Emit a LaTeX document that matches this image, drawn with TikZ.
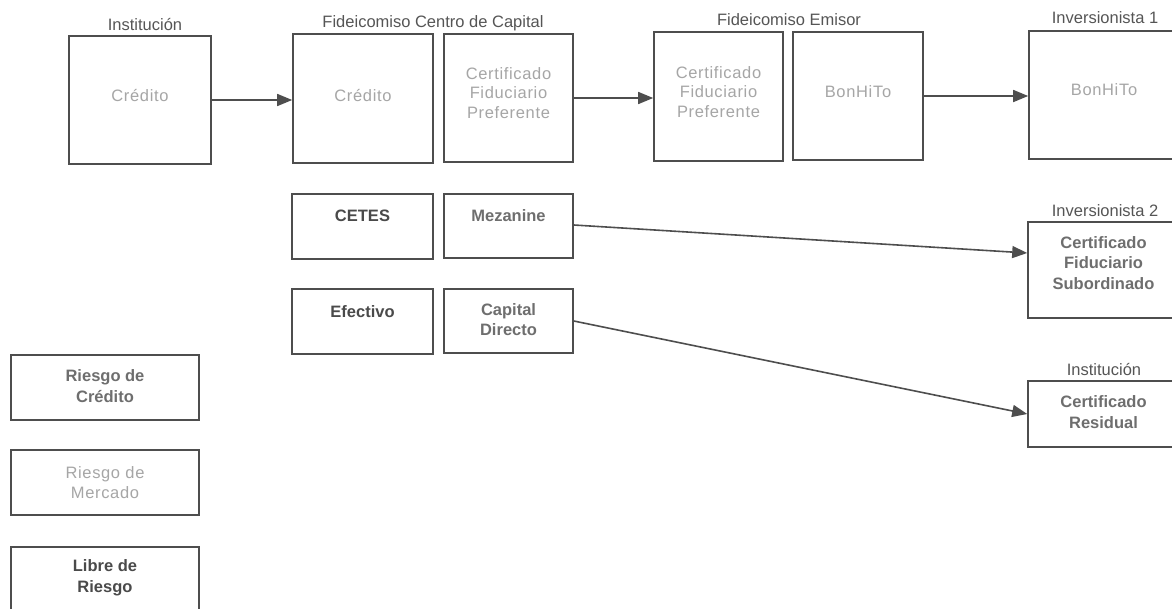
\documentclass[tikz,border=0pt]{standalone}
\usepackage{fontspec}
\setmainfont{Liberation Sans}
\newfontfamily\spacedfont{Liberation Sans}[LetterSpace=4]
\usetikzlibrary{arrows.meta}
\definecolor{linegray}{HTML}{4E4E4E}
\definecolor{headgray}{HTML}{555555}
\definecolor{mktgray}{HTML}{A6A6A6}
\definecolor{crdgray}{HTML}{6E6E6E}
\definecolor{freegray}{HTML}{4A4A4A}
\tikzset{
  x=1pt, y=-1pt,
  box/.style={draw=linegray, line width=1.6pt, inner sep=0pt, fill=white},
  head/.style={inner sep=0pt, text=headgray, font=\fontsize{16.5}{19.5}\selectfont},
  mkt/.style={inner sep=0pt, align=center, text=mktgray, font=\spacedfont\fontsize{16.5}{19.5}\selectfont},
  crd/.style={inner sep=0pt, align=center, text=crdgray, font=\bfseries\fontsize{16.5}{20.5}\selectfont},
  free/.style={inner sep=0pt, align=center, text=freegray, font=\bfseries\fontsize{16.5}{20.5}\selectfont},
  flow/.style={draw=linegray, line width=1.6pt, -{Triangle[length=15pt,width=12pt]}}
}
\begin{document}
\begin{tikzpicture}
\useasboundingbox (0,0) rectangle (1172,608);
\clip (0,0) rectangle (1172,608);
% boxes
\node[box, minimum width=142, minimum height=128] (inst) at (140,100) {};
\node[box, minimum width=140, minimum height=129] (fccCred) at (363,98.5) {};
\node[box, minimum width=129, minimum height=128] (fccCert) at (508.5,98) {};
\node[box, minimum width=129, minimum height=129] (feCert) at (718.5,96.5) {};
\node[box, minimum width=130, minimum height=128] (feBon) at (858,96) {};
\node[box, minimum width=150, minimum height=128] (inv1) at (1104,95) {};
\node[box, minimum width=141, minimum height=65] (cetes) at (362.5,226.5) {};
\node[box, minimum width=129, minimum height=64] (mez) at (508.5,226) {};
\node[box, minimum width=141, minimum height=65] (efec) at (362.5,321.5) {};
\node[box, minimum width=129, minimum height=64] (cap) at (508.5,321) {};
\node[box, minimum width=151, minimum height=96] (inv2) at (1103.5,270) {};
\node[box, minimum width=151, minimum height=66] (res) at (1103.5,414) {};
\node[box, minimum width=188, minimum height=65] (rc) at (105,387.5) {};
\node[box, minimum width=188, minimum height=65] (rm) at (105,482.5) {};
\node[box, minimum width=188, minimum height=65] (lr) at (105,579.5) {};
% headers
\node[head] (hInst) at (145,25) {Institución};
\node[head] (hFcc) at (433,23) {Fideicomiso Centro de Capital};
\node[head] (hFe) at (789,20) {Fideicomiso Emisor};
\node[head] (hInv1) at (1105,18) {Inversionista 1};
\node[head] (hInv2) at (1105,211) {Inversionista 2};
\node[head] (hRes) at (1104,369) {Institución};
% box texts
\node[mkt] (tInst) at (140,96) {Crédito};
\node[mkt] (tFccCred) at (363,96) {Crédito};
\node[mkt] (tFccCert) at (508.5,93) {Certificado\\Fiduciario\\Preferente};
\node[mkt] (tFeCert) at (718.5,92) {Certificado\\Fiduciario\\Preferente};
\node[mkt] (tFeBon) at (858,92) {BonHiTo};
\node[mkt] (tInv1) at (1104,90) {BonHiTo};
\node[free] (tCetes) at (362.5,216) {CETES};
\node[crd] (tMez) at (508.5,216) {Mezanine};
\node[free] (tEfec) at (362.5,312) {Efectivo};
\node[crd] (tCap) at (508.5,319.5) {Capital\\Directo};
\node[crd] (tInv2) at (1103.5,263) {Certificado\\Fiduciario\\Subordinado};
\node[crd] (tRes) at (1103.5,412) {Certificado\\Residual};
\node[crd] (tRc) at (105,386) {Riesgo de\\Crédito};
\node[mkt] (tRm) at (105,482.5) {Riesgo de\\Mercado};
\node[free] (tLr) at (105,578) {Libre de\\Riesgo};
% connectors
\draw[flow] (inst.east) -- (inst.east -| fccCred.west);
\draw[flow] (fccCert.east) -- (fccCert.east -| feCert.west);
\draw[flow] (feBon.east) -- (feBon.east -| inv1.west);
\draw[flow] ([yshift=1pt]mez.east) -- ([yshift=17pt]inv2.west);
\draw[flow] (cap.east) -- (res.west);
\end{tikzpicture}
\end{document}
